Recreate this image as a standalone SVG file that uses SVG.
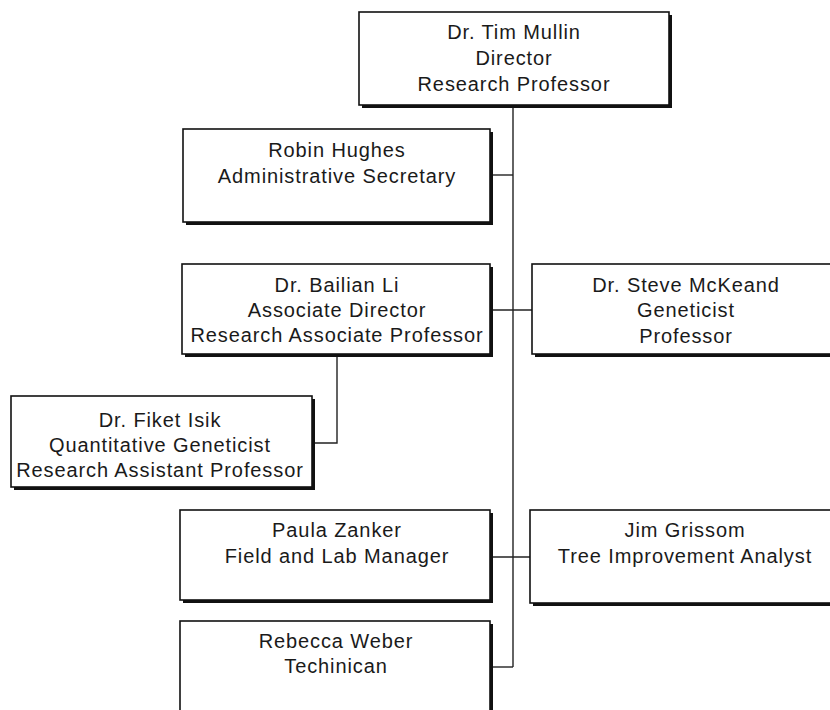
<svg xmlns="http://www.w3.org/2000/svg" width="830" height="710" viewBox="0 0 830 710">
<style>
.sh{fill:#111}
.bx{fill:#fff;stroke:#111;stroke-width:1.6}
.t{font-family:"Liberation Sans",Arial,sans-serif;font-size:20px;letter-spacing:0.9px;fill:#1a1a1a;text-anchor:middle}
.c{fill:none;stroke:#222;stroke-width:1.4}
</style>
<rect width="830" height="710" fill="#fff"/>
<g id="connectors">
<line class="c" x1="513" y1="108" x2="513" y2="667"/>
<line class="c" x1="493" y1="175" x2="513" y2="175"/>
<line class="c" x1="493" y1="310" x2="532" y2="310"/>
<polyline class="c" points="337,357 337,443 315,443"/>
<line class="c" x1="493" y1="557" x2="530" y2="557"/>
<line class="c" x1="493" y1="667" x2="513" y2="667"/>
</g>
<g id="director">
<rect class="sh" x="362" y="15" width="310" height="93"/>
<rect class="bx" x="359" y="12" width="310" height="93"/>
<text class="t" x="514" y="39">Dr. Tim Mullin</text>
<text class="t" x="514" y="65">Director</text>
<text class="t" x="514" y="91">Research Professor</text>
</g>
<g id="robin">
<rect class="sh" x="186" y="132" width="307" height="93"/>
<rect class="bx" x="183" y="129" width="307" height="93"/>
<text class="t" x="337" y="157">Robin Hughes</text>
<text class="t" x="337" y="183">Administrative Secretary</text>
</g>
<g id="bailian">
<rect class="sh" x="185" y="267" width="308" height="90"/>
<rect class="bx" x="182" y="264" width="308" height="90"/>
<text class="t" x="337" y="292">Dr. Bailian Li</text>
<text class="t" x="337" y="317">Associate Director</text>
<text class="t" x="337" y="342">Research Associate Professor</text>
</g>
<g id="steve">
<rect class="sh" x="535" y="267" width="310" height="90"/>
<rect class="bx" x="532" y="264" width="310" height="90"/>
<text class="t" x="686" y="292">Dr. Steve McKeand</text>
<text class="t" x="686" y="317">Geneticist</text>
<text class="t" x="686" y="343">Professor</text>
</g>
<g id="fiket">
<rect class="sh" x="14" y="399" width="301" height="91"/>
<rect class="bx" x="11" y="396" width="301" height="91"/>
<text class="t" x="160" y="427">Dr. Fiket Isik</text>
<text class="t" x="160" y="452">Quantitative Geneticist</text>
<text class="t" x="160" y="477">Research Assistant Professor</text>
</g>
<g id="paula">
<rect class="sh" x="183" y="513" width="310" height="90"/>
<rect class="bx" x="180" y="510" width="310" height="90"/>
<text class="t" x="337" y="537">Paula Zanker</text>
<text class="t" x="337" y="563">Field and Lab Manager</text>
</g>
<g id="jim">
<rect class="sh" x="533" y="513" width="310" height="93"/>
<rect class="bx" x="530" y="510" width="310" height="93"/>
<text class="t" x="685" y="537">Jim Grissom</text>
<text class="t" x="685" y="563">Tree Improvement Analyst</text>
</g>
<g id="rebecca">
<rect class="sh" x="183" y="624" width="310" height="100"/>
<rect class="bx" x="180" y="621" width="310" height="100"/>
<text class="t" x="336" y="648">Rebecca Weber</text>
<text class="t" x="336" y="673">Techinican</text>
</g>
</svg>
